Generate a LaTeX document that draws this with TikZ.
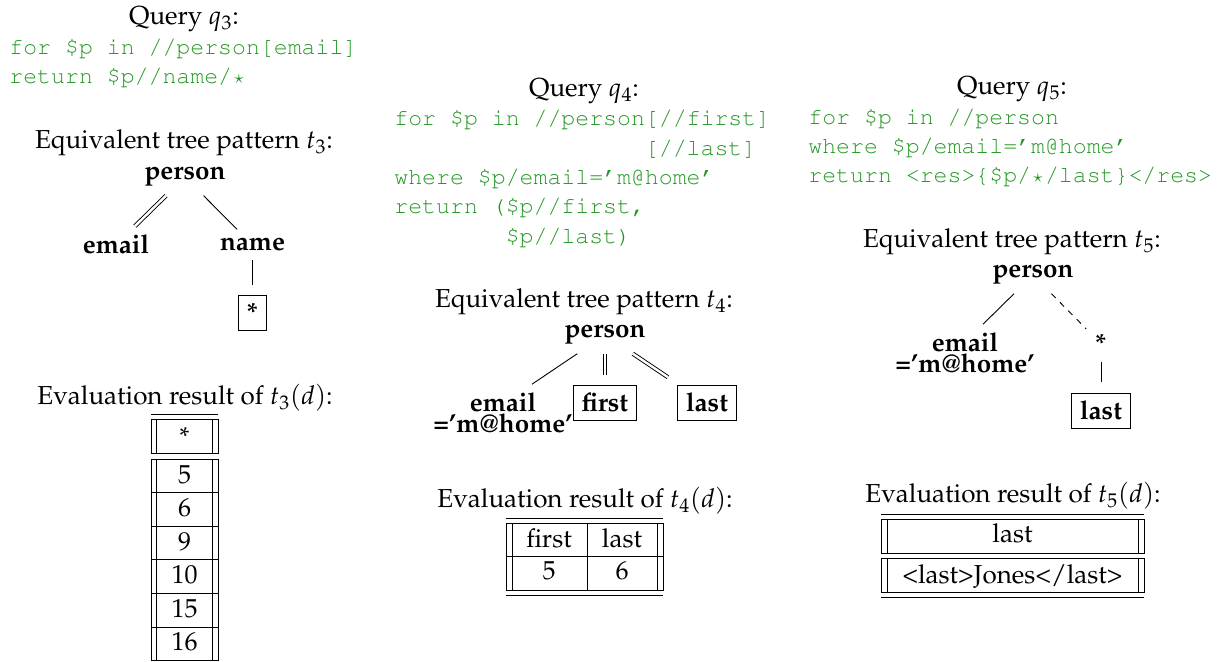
\documentclass[tikz,border=0pt]{standalone}
\usepackage[T1]{fontenc}
\usepackage{mathpazo}
\usepackage{courier}
\usetikzlibrary{calc}
\definecolor{codegreen}{RGB}{34,150,34}
\newcommand{\codestar}{\makebox[0.6em]{$\scriptstyle\star$}}
\begin{document}
\begin{tikzpicture}[x=0.5pt,y=-0.5pt,
  serif/.style={font=\fontsize{13}{15.6}\selectfont},
  heading/.style={serif, anchor=base, inner sep=0pt},
  codeline/.style={font=\fontsize{11.6}{14}\selectfont\ttfamily, text=codegreen, anchor=base west, inner sep=0pt},
  tag/.style={font=\fontsize{13}{15.6}\selectfont\bfseries, anchor=base, inner sep=4.3pt},
  twoline/.style={tag, align=center, font=\fontsize{13}{10.5}\selectfont\bfseries},
  leaf/.style={tag, anchor=center, draw, line width=0.5pt, inner xsep=4.1pt, inner ysep=3pt, text height=10pt, text depth=1.5pt},
  cell/.style={serif, anchor=base, inner sep=0pt},
  link/.style={line width=0.45pt},
  dlink/.style={link, double, double distance=1.2pt},
  rule/.style={line width=0.45pt},
]
\useasboundingbox (0,0) rectangle (1227,662);

% ---------------- query q3 ----------------
\node[heading] (q3t) at (184,25) {Query $q_3$:};
\node[codeline] (q3a) at (9,54.5) {for \$p in //person[email]};
\node[codeline] (q3b) at (9,83.5) {return \$p//name/\codestar};

\node[heading] (t3t) at (184,149) {Equivalent tree pattern $t_3$:};
\node[tag] (p3) at (185,180) {person};
\node[tag] (e3) at (116,254) {email};
\node[tag] (n3) at (252.5,251) {name};
\node[leaf] (s3) at (252.5,313) {*};
\draw[dlink] (p3) -- (e3);
\draw[link] (p3) -- (n3);
\draw[link, shorten >=5pt] (n3) -- (s3);

\node[heading] (r3t) at (185,405) {Evaluation result of $t_3(d)$:};
\draw[rule] (151,414) -- (218,414);
\draw[rule] (151,419) rectangle (218,453);
\draw[rule] (156,419) -- (156,453) (212,419) -- (212,453);
\draw[rule] (151,459) rectangle (218,660.6);
\draw[rule] (156,459) -- (156,660.6) (212,459) -- (212,660.6);
\foreach \y in {492.6,526.2,559.8,593.4,627} \draw[rule] (151,\y) -- (218,\y);
\node[cell] (c30) at (184.5,446) {*};
\node[cell] (c31) at (184.5,483.5) {5};
\node[cell] (c32) at (184.5,517) {6};
\node[cell] (c33) at (184.5,550.5) {9};
\node[cell] (c34) at (184.5,584) {10};
\node[cell] (c35) at (184.5,617.5) {15};
\node[cell] (c36) at (184.5,651) {16};

% ---------------- query q4 ----------------
\node[heading] (q4t) at (584,96.5) {Query $q_4$:};
\node[codeline] (q4a) at (394,126) {for \$p in //person[//first]};
\node[codeline] (q4b) at (394,155.5) {\phantom{for \$p in //person}[//last]};
\node[codeline] (q4c) at (394,185) {where \$p/email='m@home'};
\node[codeline] (q4d) at (394,214) {return (\$p//first,};
\node[codeline] (q4e) at (394,243.5) {\phantom{return (}\$p//last)};

\node[heading] (t4t) at (584,308) {Equivalent tree pattern $t_4$:};
\node[tag] (p4) at (605,338) {person};
\node[twoline] (e4) at (503,433) {email\\='m@home'};
\node[leaf] (f4) at (605,403.5) {first};
\node[leaf] (l4) at (707,403.5) {last};
\draw[link] (p4) -- ($(e4.north)+(29,0)$);
\draw[dlink, shorten >=5pt] (p4) -- (f4);
\draw[dlink, shorten >=7.4pt] (p4) -- (l4);

\node[heading] (r4t) at (585,508) {Evaluation result of $t_4(d)$:};
\draw[rule] (506,518) -- (663,518);
\draw[rule] (506,523) rectangle (663,590);
\draw[rule] (512,523) -- (512,590) (657,523) -- (657,590) (587,523) -- (587,590);
\draw[rule] (506,556) -- (663,556);
\draw[rule] (506,595.5) -- (663,595.5);
\node[cell] (c41) at (549,548) {first};
\node[cell] (c42) at (622,548) {last};
\node[cell] (c43) at (549,580) {5};
\node[cell] (c44) at (622,580) {6};

% ---------------- query q5 ----------------
\node[heading] (q5t) at (1012,95) {Query $q_5$:};
\node[codeline] (q5a) at (808,125) {for \$p in //person};
\node[codeline] (q5b) at (808,154) {where \$p/email='m@home'};
\node[codeline] (q5c) at (808,183) {return <res>\{\$p/\codestar/last\}</res>};

\node[heading] (t5t) at (1012,248) {Equivalent tree pattern $t_5$:};
\node[tag] (p5) at (1033,278) {person};
\node[twoline] (e5) at (965,373) {email\\='m@home'};
\node[tag] (s5) at (1101,353) {*};
\node[leaf] (l5) at (1101,411.5) {last};
\draw[link] (p5) -- ($(e5.north)+(18,0)$);
\draw[link, dashed] (p5) -- (s5);
\draw[link, shorten >=5.5pt] (s5) -- (l5);

\node[heading] (r5t) at (1013,503) {Evaluation result of $t_5(d)$:};
\draw[rule] (881,514) -- (1144,514);
\draw[rule] (881,519) rectangle (1144,553);
\draw[rule] (887,519) -- (887,553) (1138,519) -- (1138,553);
\draw[rule] (881,558) rectangle (1144,592);
\draw[rule] (887,558) -- (887,592) (1138,558) -- (1138,592);
\draw[rule] (881,597) -- (1144,597);
\node[cell] (c51) at (1012.5,543) {last};
\node[cell] (c52) at (1012.5,583) {<last>Jones</last>};
\end{tikzpicture}
\end{document}
